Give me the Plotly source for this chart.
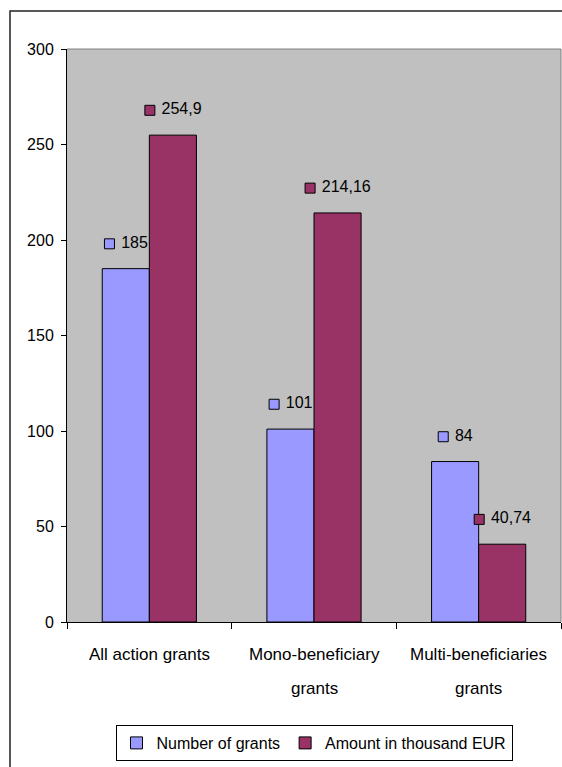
import plotly.graph_objects as go

# Chart data
categories = ["All action grants", "Mono-beneficiary<br>grants", "Multi-beneficiaries<br>grants"]
series_names = ["Number of grants", "Amount in thousand EUR"]
number_of_grants = [185, 101, 84]
amount_keur = [254.9, 214.16, 40.74]
y_ticks = [0, 50, 100, 150, 200, 250, 300]

series_values = [number_of_grants, amount_keur]
colors = ["#9999FF", "#993366"]

FONT = "Liberation Sans, Arial, sans-serif"
FS = 16
FS_X = 17

# Page / plot geometry (px)
W, H = 562, 767
ML, MR, MT, MB = 67, 1, 49, 145
PW, PH = W - ML - MR, H - MT - MB

BARGAP = 0.428
n_series = len(series_values)
bar_w = (1 - BARGAP) / n_series
px_per_x = PW / len(categories)        # px per category unit
label_lift = 13                        # value units between bar top and its label
cat_first_line = -32                   # px below the axis for category label lines
cat_line_step = -34


def fmt(v):
    return f"{v:g}".replace(".", ",")


def label_width_px(s):
    return sum(0.278 * FS if ch == "," else 0.556 * FS for ch in s)


fig = go.Figure()
xs = list(range(len(categories)))

for s, (name, vals, col) in enumerate(zip(series_names, series_values, colors)):
    fig.add_trace(go.Bar(
        x=xs, y=vals, name=name, offsetgroup=str(s),
        marker=dict(color=col, line=dict(color="black", width=1)),
    ))

# Data labels: legend key square followed by the value, centred over each bar
for s, (vals, col) in enumerate(zip(series_values, colors)):
    mx, my, txt = [], [], []
    for i, v in enumerate(vals):
        t = fmt(v)
        centre = i + (s - (n_series - 1) / 2) * bar_w
        total = 10 + 6 + label_width_px(t)
        mx.append(centre + (-total / 2 + 5) / px_per_x)
        my.append(v + label_lift)
        txt.append("\u00a0" + t)
    fig.add_trace(go.Scatter(
        x=mx, y=my, mode="markers+text", text=txt, textposition="middle right",
        marker=dict(symbol="square", size=10, color=col, line=dict(color="black", width=1)),
        textfont=dict(family=FONT, size=FS, color="black"),
        showlegend=False, hoverinfo="skip", cliponaxis=False,
    ))

# Category labels (one annotation per line, for a looser line spacing)
annotations = []
for i, label in enumerate(categories):
    for k, line in enumerate(label.split("<br>")):
        annotations.append(dict(
            x=i, y=0, xref="x", yref="y", text=line, showarrow=False,
            xanchor="center", yanchor="middle",
            yshift=cat_first_line + k * cat_line_step,
            font=dict(family=FONT, size=FS_X, color="black"),
        ))


def px_to_paper_x(px):
    return (px - ML) / PW


def px_to_paper_y(py):
    return (H - MB - py) / PH


shapes = [
    # plot-area top and right edges
    dict(type="line", xref="paper", yref="paper", x0=0, x1=1, y0=1, y1=1,
         line=dict(color="#808080", width=1)),
    dict(type="line", xref="paper", yref="paper", x0=1, x1=1, y0=0, y1=1,
         line=dict(color="#808080", width=1)),
    # chart-area frame
    dict(type="rect", xref="paper", yref="paper",
         x0=px_to_paper_x(10), x1=px_to_paper_x(570),
         y0=px_to_paper_y(775), y1=px_to_paper_y(11),
         line=dict(color="#222222", width=1.5), fillcolor="rgba(0,0,0,0)"),
]

fig.update_layout(
    width=W, height=H,
    margin=dict(l=ML, r=MR, t=MT, b=MB, pad=0),
    paper_bgcolor="white", plot_bgcolor="#C0C0C0",
    barmode="group", bargap=BARGAP, bargroupgap=0,
    font=dict(family=FONT, size=FS, color="black"),
    showlegend=True,
    legend=dict(
        orientation="h", x=0.5, xanchor="center", y=px_to_paper_y(725), yanchor="top",
        bordercolor="black", borderwidth=1, bgcolor="white",
        font=dict(family=FONT, size=FS, color="black"),
        itemwidth=30, traceorder="normal",
    ),
    shapes=shapes,
    annotations=annotations,
    xaxis=dict(
        range=[-0.5, len(categories) - 0.5], tickvals=xs, showticklabels=False,
        ticks="", 
        minor=dict(tick0=0.5, dtick=1, ticks="outside", ticklen=6, tickcolor="black", showgrid=False),
        showline=True, linecolor="black", linewidth=1, showgrid=False, zeroline=False,
        fixedrange=True,
    ),
    yaxis=dict(
        range=[0, 300], tickvals=y_ticks, ticktext=[str(t) for t in y_ticks],
        ticks="outside", ticklen=5, tickcolor="black", ticklabelstandoff=4,
        showline=True, linecolor="black", linewidth=1, showgrid=False, zeroline=False,
        tickfont=dict(family=FONT, size=FS), fixedrange=True,
    ),
)

fig.write_html("out.html")
